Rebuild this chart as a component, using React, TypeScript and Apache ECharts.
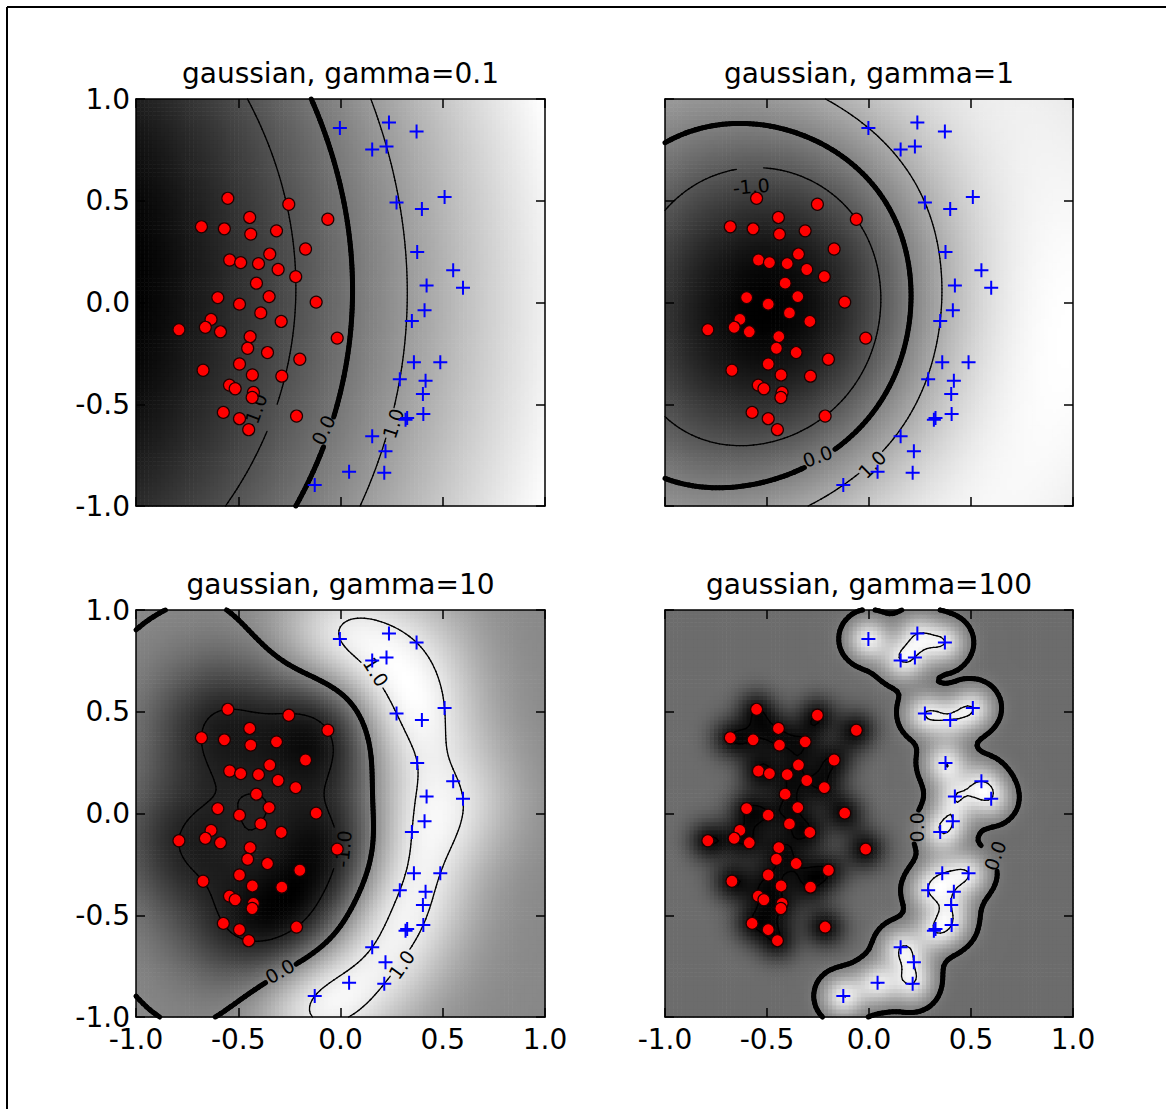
import React, { useEffect, useRef } from 'react';
import * as echarts from 'echarts';

// ---------------- data ----------------
const redX = [-0.551, -0.253, -0.444, -0.062, -0.680, -0.568, -0.439, -0.313, -0.171, -0.346, -0.542, -0.488, -0.401, -0.305, -0.219, -0.411, -0.600, -0.494, -0.349, -0.119, -0.390, -0.633, -0.661, -0.790, -0.587, -0.290, -0.442, -0.016, -0.454, -0.357, -0.199, -0.494, -0.672, -0.431, -0.287, -0.543, -0.515, -0.426, -0.432, -0.573, -0.494, -0.215, -0.449];
const redY = [0.512, 0.483, 0.418, 0.409, 0.372, 0.362, 0.336, 0.352, 0.263, 0.238, 0.209, 0.196, 0.191, 0.162, 0.127, 0.095, 0.024, -0.008, 0.029, 0.002, -0.051, -0.083, -0.122, -0.134, -0.144, -0.093, -0.168, -0.175, -0.225, -0.246, -0.279, -0.302, -0.333, -0.356, -0.362, -0.406, -0.424, -0.442, -0.467, -0.540, -0.571, -0.558, -0.625];
const blueX = [-0.003, 0.237, 0.372, 0.155, 0.225, 0.509, 0.274, 0.398, 0.375, 0.551, 0.421, 0.599, 0.411, 0.349, 0.359, 0.488, 0.290, 0.416, 0.403, 0.405, 0.318, 0.326, 0.155, 0.220, 0.042, 0.214, -0.126];
const blueY = [0.858, 0.884, 0.840, 0.752, 0.767, 0.519, 0.491, 0.460, 0.248, 0.158, 0.083, 0.073, -0.038, -0.091, -0.294, -0.294, -0.377, -0.385, -0.450, -0.548, -0.576, -0.568, -0.657, -0.731, -0.832, -0.837, -0.897];

const gammaValues = [0.1, 1, 10, 100];
const svmC = [10, 10, 10, 10];
const panelTitles = ['gaussian, gamma=0.1', 'gaussian, gamma=1', 'gaussian, gamma=10', 'gaussian, gamma=100'];
const tickValues = [-1, -0.5, 0, 0.5, 1];
const tickLabels = ['-1.0', '-0.5', '0.0', '0.5', '1.0'];
const contourLevels = [-1, 0, 1];

// inline contour labels
const labelPanel = [0, 0, 0, 1, 1, 1, 2, 2, 2, 2, 3, 3];
const labelX = [-0.418, -0.084, 0.258, -0.577, -0.252, 0.016, 0.173, 0.013, -0.297, 0.299, 0.236, 0.618];
const labelY = [-0.537, -0.627, -0.594, 0.571, -0.755, -0.796, 0.696, -0.174, -0.775, -0.743, -0.068, -0.207];
const labelRot = [70, 65, 72, 5, 20, 45, -58, 85, 30, 55, 90, 70];
const labelText = ['-1.0', '0.0', '1.0', '-1.0', '0.0', '1.0', '1.0', '-1.0', '0.0', '1.0', '0.0', '0.0'];

// ---------------- layout / style ----------------
const FONT = 'DejaVu Sans';
const GRIDS = [
  { left: 136, top: 99, width: 409, height: 407 },
  { left: 665, top: 99, width: 408, height: 407 },
  { left: 136, top: 610, width: 409, height: 407 },
  { left: 665, top: 610, width: 408, height: 407 },
];
const IMG_N = 100;
const CONT_M = 121;

// ---------------- SVM (SMO) trained on the points ----------------
function trainSVM(pts: number[][], lab: number[], gamma: number, C: number) {
  const n = pts.length;
  const K: number[][] = [];
  for (let i = 0; i < n; i++) {
    const row: number[] = [];
    for (let j = 0; j < n; j++) {
      const dx = pts[i][0] - pts[j][0];
      const dy = pts[i][1] - pts[j][1];
      row.push(Math.exp(-gamma * (dx * dx + dy * dy)));
    }
    K.push(row);
  }
  const alpha = new Array(n).fill(0);
  const g = new Array(n).fill(0);
  let b = 0;
  const tol = 1e-3;
  const err = (k: number) => g[k] + b - lab[k];

  const takeStep = (i: number, j: number) => {
    if (i === j) return false;
    const yi = lab[i], yj = lab[j];
    const ai = alpha[i], aj = alpha[j];
    const Ei = err(i), Ej = err(j);
    let L: number, H: number;
    if (yi !== yj) { L = Math.max(0, aj - ai); H = Math.min(C, C + aj - ai); }
    else { L = Math.max(0, ai + aj - C); H = Math.min(C, ai + aj); }
    if (H - L < 1e-12) return false;
    const eta = K[i][i] + K[j][j] - 2 * K[i][j];
    if (eta <= 1e-12) return false;
    let ajn = aj + (yj * (Ei - Ej)) / eta;
    if (ajn < L) ajn = L;
    if (ajn > H) ajn = H;
    if (Math.abs(ajn - aj) < 1e-7 * (ajn + aj + 1e-7)) return false;
    const ain = ai + yi * yj * (aj - ajn);
    const di = (ain - ai) * yi;
    const dj = (ajn - aj) * yj;
    const b1 = b - Ei - di * K[i][i] - dj * K[i][j];
    const b2 = b - Ej - di * K[i][j] - dj * K[j][j];
    let bn: number;
    if (ain > 0 && ain < C) bn = b1;
    else if (ajn > 0 && ajn < C) bn = b2;
    else bn = (b1 + b2) / 2;
    alpha[i] = ain;
    alpha[j] = ajn;
    b = bn;
    for (let k = 0; k < n; k++) g[k] += di * K[i][k] + dj * K[j][k];
    return true;
  };

  const examine = (i: number) => {
    const yi = lab[i];
    const ai = alpha[i];
    const Ei = err(i);
    const r = Ei * yi;
    if ((r < -tol && ai < C) || (r > tol && ai > 0)) {
      let best = -1, bestD = -1;
      for (let j = 0; j < n; j++) {
        if (alpha[j] > 0 && alpha[j] < C) {
          const d = Math.abs(Ei - err(j));
          if (d > bestD) { bestD = d; best = j; }
        }
      }
      if (best >= 0 && takeStep(i, best)) return 1;
      for (let s = 0; s < n; s++) {
        const j = (i + 1 + s) % n;
        if (alpha[j] > 0 && alpha[j] < C && takeStep(i, j)) return 1;
      }
      for (let s = 0; s < n; s++) {
        const j = (i + 1 + s) % n;
        if (takeStep(i, j)) return 1;
      }
    }
    return 0;
  };

  let numChanged = 0;
  let examineAll = true;
  let loops = 0;
  while ((numChanged > 0 || examineAll) && loops < 20000) {
    numChanged = 0;
    if (examineAll) {
      for (let i = 0; i < n; i++) numChanged += examine(i);
    } else {
      for (let i = 0; i < n; i++) if (alpha[i] > 0 && alpha[i] < C) numChanged += examine(i);
    }
    if (examineAll) examineAll = false;
    else if (numChanged === 0) examineAll = true;
    loops++;
  }

  return (x: number, y: number) => {
    let s = b;
    for (let k = 0; k < n; k++) {
      if (alpha[k] > 0) {
        const dx = x - pts[k][0];
        const dy = y - pts[k][1];
        s += alpha[k] * lab[k] * Math.exp(-gamma * (dx * dx + dy * dy));
      }
    }
    return s;
  };
}

// marching squares
function contourSegments(F: number[][], M: number, level: number, li: number) {
  const segs: number[][] = [];
  const step = 2 / (M - 1);
  for (let j = 0; j < M - 1; j++) {
    for (let i = 0; i < M - 1; i++) {
      const x0 = -1 + i * step, y0 = -1 + j * step;
      const c = [F[j][i], F[j][i + 1], F[j + 1][i + 1], F[j + 1][i]];
      const pos = [[x0, y0], [x0 + step, y0], [x0 + step, y0 + step], [x0, y0 + step]];
      const pts: number[][] = [];
      for (let e = 0; e < 4; e++) {
        const a = c[e] - level;
        const bb = c[(e + 1) % 4] - level;
        if ((a < 0) !== (bb < 0)) {
          const t = a / (a - bb);
          const p1 = pos[e], p2 = pos[(e + 1) % 4];
          pts.push([p1[0] + t * (p2[0] - p1[0]), p1[1] + t * (p2[1] - p1[1])]);
        }
      }
      if (pts.length === 2) {
        segs.push([pts[0][0], pts[0][1], pts[1][0], pts[1][1], li]);
      } else if (pts.length === 4) {
        const center = (c[0] + c[1] + c[2] + c[3]) / 4 - level;
        if ((center < 0) === (c[0] - level < 0)) {
          segs.push([pts[0][0], pts[0][1], pts[1][0], pts[1][1], li]);
          segs.push([pts[2][0], pts[2][1], pts[3][0], pts[3][1], li]);
        } else {
          segs.push([pts[3][0], pts[3][1], pts[0][0], pts[0][1], li]);
          segs.push([pts[1][0], pts[1][1], pts[2][0], pts[2][1], li]);
        }
      }
    }
  }
  return segs;
}

function buildOption() {
  const pts: number[][] = [];
  const lab: number[] = [];
  redX.forEach((x, i) => { pts.push([x, redY[i]]); lab.push(-1); });
  blueX.forEach((x, i) => { pts.push([x, blueY[i]]); lab.push(1); });

  const xAxes: any[] = [];
  const yAxes: any[] = [];
  const series: any[] = [];
  const titles: any[] = [];

  const axisCfg = (gridIndex: number, position: string, showLabel: boolean) => ({
    type: 'value',
    gridIndex,
    position,
    min: -1,
    max: 1,
    interval: 0.5,
    z: 10,
    axisLine: { show: true, onZero: false, lineStyle: { color: '#000', width: 1.5 } },
    axisTick: { show: true, inside: true, length: 9, lineStyle: { color: '#000', width: 1.5 } },
    splitLine: { show: false },
    axisLabel: {
      show: showLabel,
      formatter: (v: number) => {
        const k = tickValues.findIndex((t) => Math.abs(t - v) < 1e-9);
        return k >= 0 ? tickLabels[k] : v.toFixed(1);
      },
      fontSize: 28,
      fontFamily: FONT,
      color: '#000',
      margin: position === 'bottom' ? 8 : 6,
    },
  });

  GRIDS.forEach((gr, p) => {
    xAxes.push(axisCfg(p, 'bottom', p >= 2));
    xAxes.push(axisCfg(p, 'top', false));
    yAxes.push(axisCfg(p, 'left', p % 2 === 0));
    yAxes.push(axisCfg(p, 'right', false));

    titles.push({
      text: panelTitles[p],
      left: gr.left + gr.width / 2,
      top: gr.top - 40,
      textAlign: 'center',
      padding: 0,
      textStyle: { fontSize: 28, fontWeight: 'normal', fontFamily: FONT, color: '#000' },
    });

    const f = trainSVM(pts, lab, gammaValues[p], svmC[p]);

    // image cells
    const cells: number[][] = [];
    let vmin = Infinity, vmax = -Infinity;
    const h = 1 / IMG_N;
    for (let j = 0; j < IMG_N; j++) {
      for (let i = 0; i < IMG_N; i++) {
        const x = -1 + (2 * i + 1) * h;
        const y = -1 + (2 * j + 1) * h;
        const v = f(x, y);
        if (v < vmin) vmin = v;
        if (v > vmax) vmax = v;
        cells.push([x, y, v]);
      }
    }
    const range = vmax - vmin || 1;

    // contour grid
    const F: number[][] = [];
    const st = 2 / (CONT_M - 1);
    for (let j = 0; j < CONT_M; j++) {
      const row: number[] = [];
      for (let i = 0; i < CONT_M; i++) row.push(f(-1 + i * st, -1 + j * st));
      F.push(row);
    }
    let segs: number[][] = [];
    contourLevels.forEach((lv, li) => { segs = segs.concat(contourSegments(F, CONT_M, lv, li)); });

    // labels of this panel, and gaps in the lines under them
    const labIdx: number[] = [];
    labelPanel.forEach((pp, k) => { if (pp === p) labIdx.push(k); });
    segs = segs.filter((s) => {
      const mx = (s[0] + s[2]) / 2, my = (s[1] + s[3]) / 2;
      for (const k of labIdx) {
        if (parseFloat(labelText[k]) !== contourLevels[s[4]]) continue;
        const r = 0.028 * labelText[k].length;
        const dx = mx - labelX[k], dy = my - labelY[k];
        if (dx * dx + dy * dy < r * r) return false;
      }
      return true;
    });

    const xi = 2 * p, yi = 2 * p;

    series.push({
      type: 'custom',
      xAxisIndex: xi,
      yAxisIndex: yi,
      silent: true,
      z: 1,
      progressive: 0,
      progressiveThreshold: 1000000,
      encode: { x: 0, y: 1 },
      data: cells,
      renderItem: (params: any, api: any) => {
        const x = api.value(0), y = api.value(1), v = api.value(2);
        const p0 = api.coord([x - h, y + h]);
        const p1 = api.coord([x + h, y - h]);
        const gv = Math.round((255 * (v - vmin)) / range);
        return {
          type: 'rect',
          shape: { x: p0[0], y: p0[1], width: p1[0] - p0[0] + 0.6, height: p1[1] - p0[1] + 0.6 },
          style: { fill: `rgb(${gv},${gv},${gv})` },
        };
      },
    });

    series.push({
      type: 'custom',
      xAxisIndex: xi,
      yAxisIndex: yi,
      silent: true,
      z: 3,
      progressive: 0,
      progressiveThreshold: 1000000,
      encode: { x: [0, 2], y: [1, 3] },
      data: segs,
      renderItem: (params: any, api: any) => {
        const a = api.coord([api.value(0), api.value(1)]);
        const c = api.coord([api.value(2), api.value(3)]);
        const lv = contourLevels[api.value(4)];
        return {
          type: 'line',
          shape: { x1: a[0], y1: a[1], x2: c[0], y2: c[1] },
          style: { stroke: '#000', lineWidth: lv === 0 ? 5 : 1.3, lineCap: 'round' },
        };
      },
    });

    series.push({
      type: 'custom',
      xAxisIndex: xi,
      yAxisIndex: yi,
      silent: true,
      z: 4,
      encode: { x: 0, y: 1 },
      data: labIdx.map((k) => [labelX[k], labelY[k], labelRot[k], k]),
      renderItem: (params: any, api: any) => {
        const c = api.coord([api.value(0), api.value(1)]);
        const k = api.value(3);
        return {
          type: 'text',
          x: c[0],
          y: c[1],
          rotation: (api.value(2) * Math.PI) / 180,
          style: {
            text: labelText[k],
            fill: '#000',
            fontSize: 19,
            fontFamily: FONT,
            align: 'center',
            verticalAlign: 'middle',
          },
        };
      },
    });

    series.push({
      type: 'scatter',
      xAxisIndex: xi,
      yAxisIndex: yi,
      silent: true,
      z: 5,
      symbol: 'circle',
      symbolSize: 12,
      itemStyle: { color: '#ff0000', borderColor: '#200000', borderWidth: 1.2, opacity: 1 },
      data: redX.map((x, i) => [x, redY[i]]),
    });

    series.push({
      type: 'scatter',
      xAxisIndex: xi,
      yAxisIndex: yi,
      silent: true,
      z: 6,
      symbol: 'path://M5,0L5,10M0,5L10,5',
      symbolSize: 14,
      itemStyle: { color: '#0000ff', borderColor: '#0000ff', borderWidth: 2, opacity: 1 },
      data: blueX.map((x, i) => [x, blueY[i]]),
    });
  });

  return {
    animation: false,
    backgroundColor: '#ffffff',
    title: titles,
    grid: GRIDS.map((g) => ({ ...g, containLabel: false })),
    xAxis: xAxes,
    yAxis: yAxes,
    series,
    graphic: [
      { type: 'line', shape: { x1: 7, y1: 7, x2: 1166, y2: 7 }, style: { stroke: '#000', lineWidth: 2 } },
      { type: 'line', shape: { x1: 7, y1: 7, x2: 7, y2: 1109 }, style: { stroke: '#000', lineWidth: 2 } },
    ],
  };
}

export default function App() {
  const ref = useRef<HTMLDivElement>(null);
  useEffect(() => {
    if (!ref.current) return;
    const chart = echarts.init(ref.current, undefined, { renderer: 'svg' });
    chart.setOption(buildOption() as any);
    return () => chart.dispose();
  }, []);
  return (
    <div
      ref={ref}
      style={{ position: 'absolute', left: 0, top: 0, width: 1166, height: 1109, background: '#fff' }}
    />
  );
}
